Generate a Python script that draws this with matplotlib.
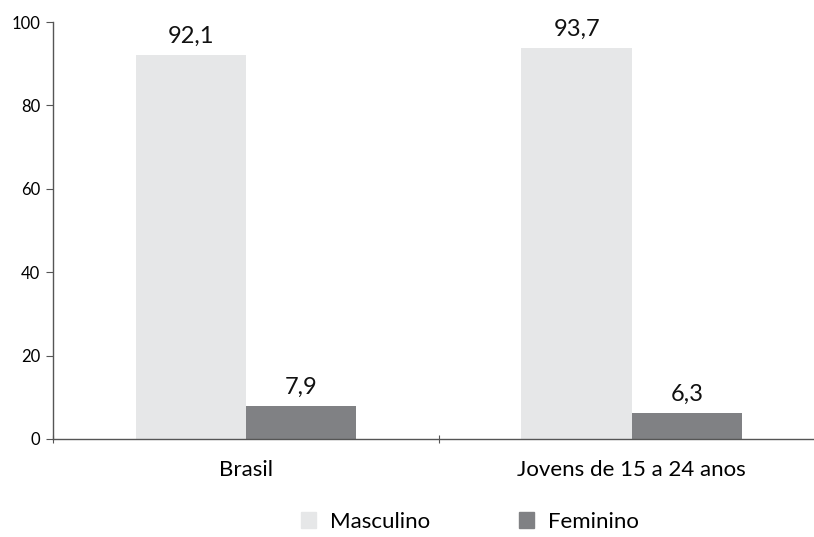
import numpy as np
import matplotlib.pyplot as plt
from matplotlib.patches import Rectangle

categories = ["Brasil", "Jovens de 15 a 24 anos"]
series_names = ["Masculino", "Feminino"]
masculino = [92.1, 93.7]
feminino = [7.9, 6.3]
value_labels_m = ["92,1", "93,7"]
value_labels_f = ["7,9", "6,3"]

plt.rcParams["font.family"] = ["Lato", "DejaVu Sans"]

fig = plt.figure(figsize=(8.14, 5.37), dpi=100)
ax = fig.add_axes([0.0651, 0.1825, 0.948, 0.7765])

colors = ["#e6e7e8", "#808184"]
x = np.arange(len(categories))
w = 0.286

bm = ax.bar(x - w / 2, masculino, w, color=colors[0], label=series_names[0])
bf = ax.bar(x + w / 2, feminino, w, color=colors[1], label=series_names[1])

for rect, lab in zip(list(bm) + list(bf), value_labels_m + value_labels_f):
    ax.annotate(lab, (rect.get_x() + rect.get_width() / 2, rect.get_height()),
                xytext=(0, 6), textcoords="offset points", ha="center",
                va="bottom", fontsize=17, color="#111111")

ax.set_xlim(-0.5, 1.5)
ax.set_ylim(0, 100)
ax.set_yticks([0, 20, 40, 60, 80, 100])
ax.tick_params(axis="y", labelsize=12, length=5, color="#555555", pad=4)

ax.set_xticks([-0.5, 0.5, 1.5])
ax.set_xticklabels([])
ax.set_xticks(x, minor=True)
ax.set_xticklabels(categories, minor=True, fontsize=16)
ax.tick_params(axis="x", which="major", length=6, color="#555555", direction="inout")
ax.tick_params(axis="x", which="minor", length=0, pad=15)

for s in ["top", "right"]:
    ax.spines[s].set_visible(False)
for s in ["left", "bottom"]:
    ax.spines[s].set_color("#555555")
    ax.spines[s].set_linewidth(1.0)

handles = [Rectangle((0, 0), 1, 1, color=c) for c in colors]
fig.legend(handles, series_names, loc="center", bbox_to_anchor=(0.577, 0.028),
           ncol=2, frameon=False, fontsize=16, handlelength=0.7,
           handleheight=0.7, handletextpad=0.6, columnspacing=4.0)

fig.savefig("out.png", dpi=100)
